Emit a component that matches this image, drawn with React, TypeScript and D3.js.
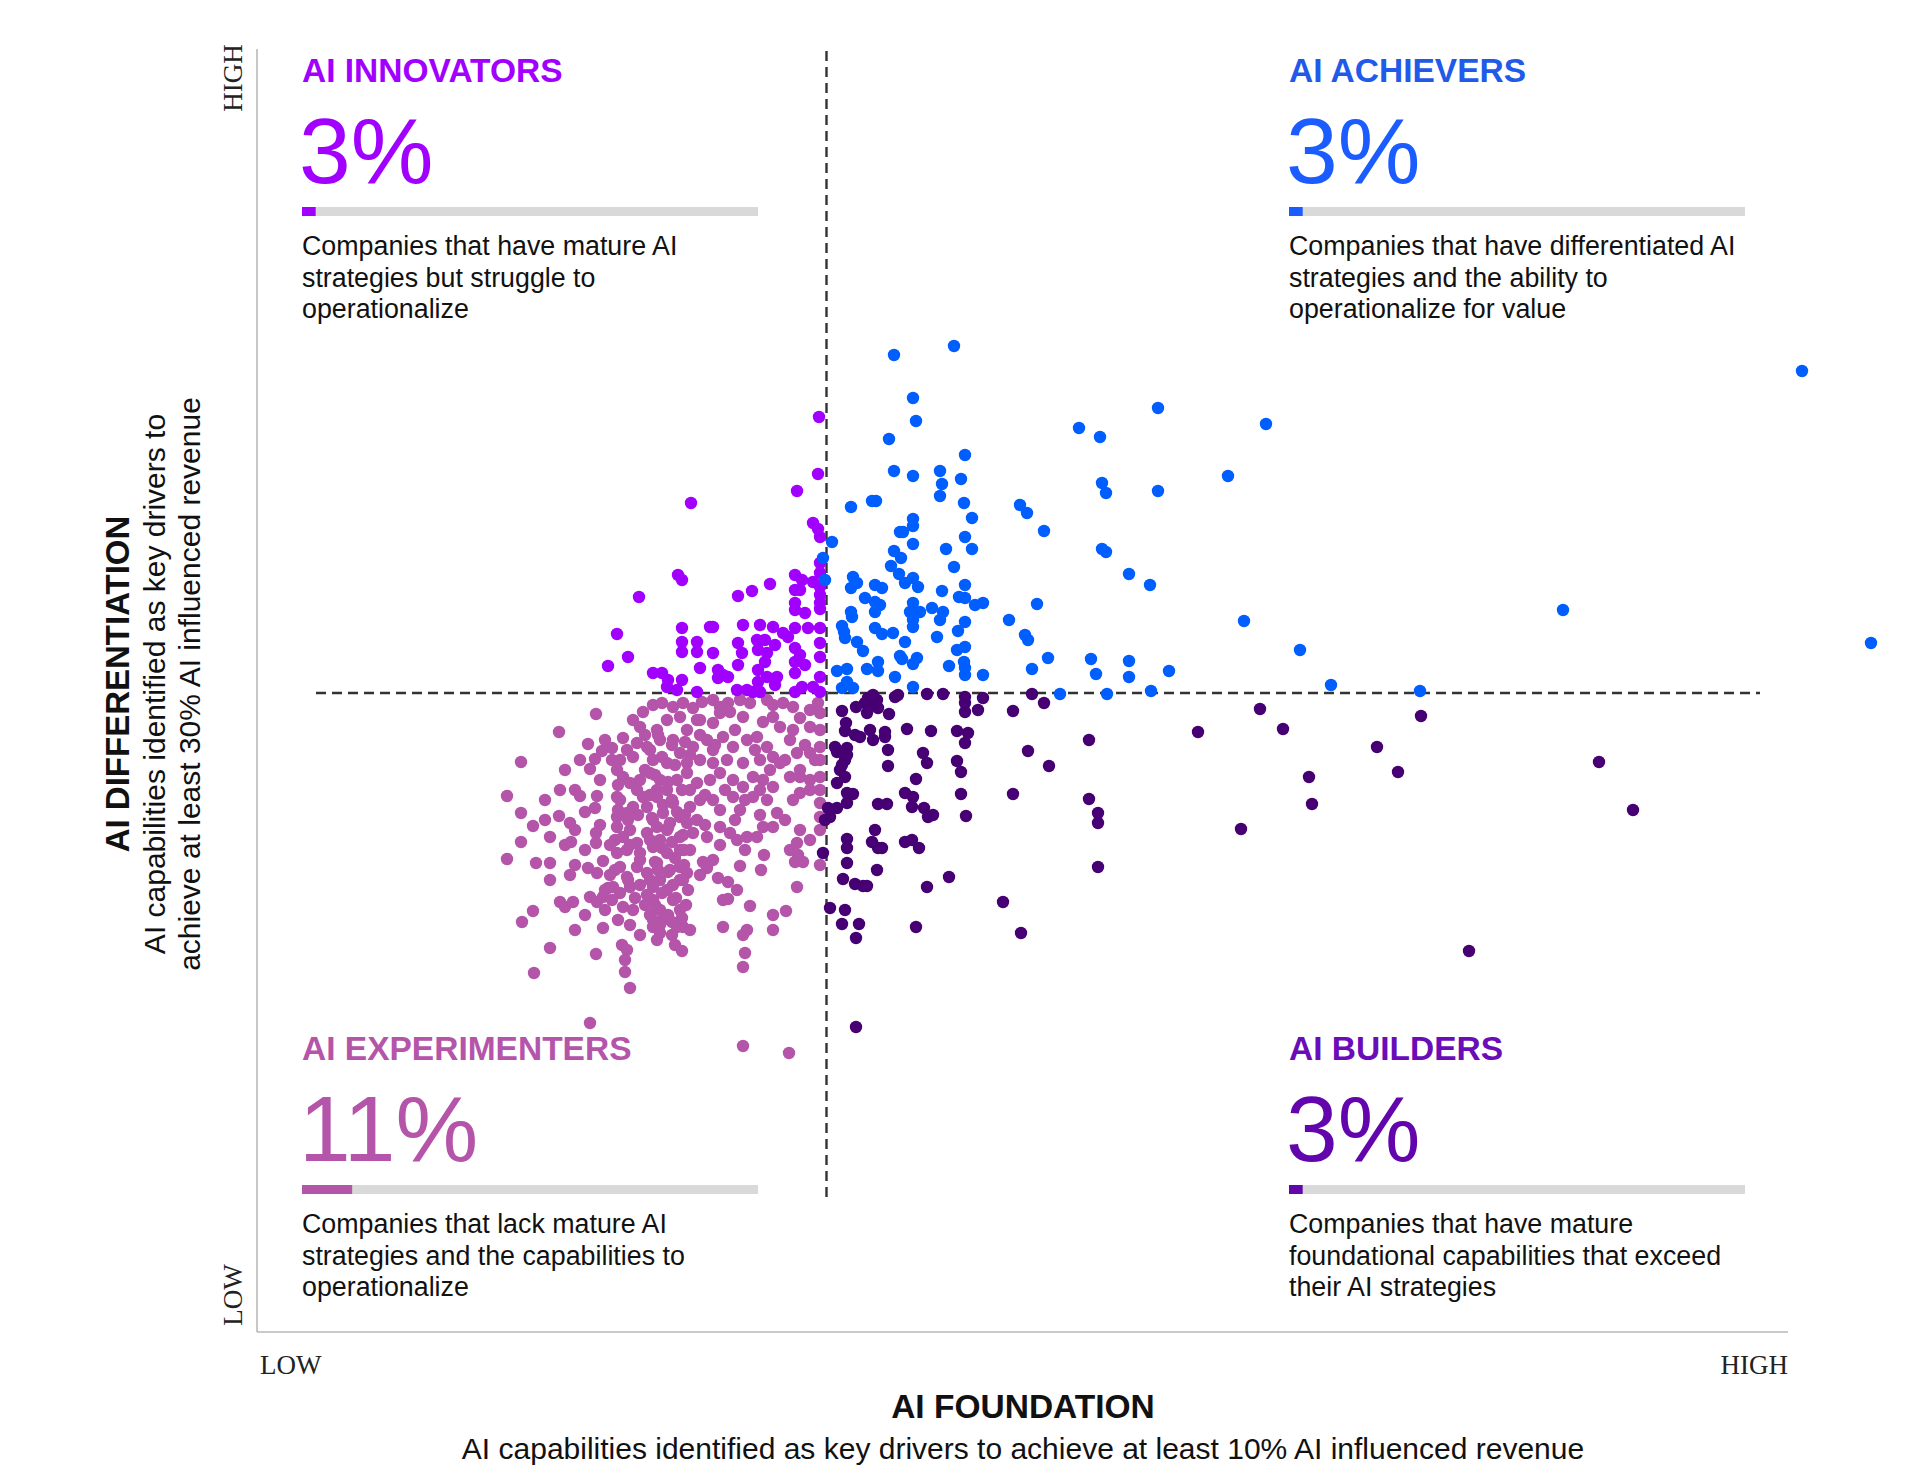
import React from "react";
import * as d3 from "d3";

// Scores: foundation (x) and differentiation (y), arbitrary index units
const achievers: [number, number][] = [
  [89.4,104.5],[95.4,105.4],[91.3,100.2],[91.6,97.9],[88.9,96.1],[115.8,99.2],[107.9,97.2],[110.0,96.3],[96.5,94.5],[89.4,92.9],
  [91.3,92.4],[94.0,92.9],[94.2,91.6],[94.0,90.4],[96.1,92.1],[110.2,91.7],[110.6,90.7],[115.8,90.9],[85.1,89.3],[87.2,89.9],
  [87.6,89.9],[96.4,89.7],[97.2,88.2],[102.0,89.5],[102.7,88.7],[104.4,86.9],[91.3,88.1],[91.3,87.4],[90.0,86.8],[90.3,86.8],
  [91.3,85.6],[83.2,85.8],[96.5,86.3],[97.2,85.1],[94.6,85.1],[110.2,85.1],[110.6,84.8],[89.4,84.9],[90.1,84.2],[89.1,83.4],
  [95.4,83.3],[89.9,82.6],[112.9,82.6],[115.0,81.5],[85.3,82.3],[85.7,81.7],[85.1,81.2],[87.5,81.5],[88.2,81.2],[90.5,81.7],
  [91.3,82.2],[91.8,81.3],[94.2,80.9],[96.5,81.5],[95.9,80.3],[96.5,80.2],[97.5,79.5],[98.3,79.7],[103.7,79.6],[86.5,80.2],
  [87.5,79.8],[88.0,79.5],[87.5,78.8],[85.1,78.8],[85.2,78.3],[91.3,79.7],[91.0,78.8],[92.0,78.8],[93.2,79.2],[94.3,78.8],
  [94.0,78.0],[91.3,78.0],[91.3,77.3],[96.5,77.8],[100.9,78.0],[84.2,77.4],[84.4,76.8],[84.5,76.2],[87.5,77.2],[88.2,76.6],
  [89.3,76.7],[93.7,76.3],[90.5,75.8],[95.8,76.9],[102.5,76.5],[102.8,76.0],[85.7,75.8],[86.3,74.9],[90.0,74.4],[90.2,74.1],
  [91.7,74.2],[91.3,73.6],[95.7,75.0],[96.5,75.3],[96.4,73.8],[96.5,73.2],[96.5,72.5],[98.3,72.5],[94.9,73.4],[104.8,74.2],
  [109.1,74.1],[112.9,73.9],[109.6,72.6],[112.9,72.3],[116.9,72.9],[103.2,73.1],[83.7,72.9],[84.7,73.1],[86.7,73.1],[87.8,73.8],
  [87.8,72.9],[89.5,72.3],[84.7,71.8],[84.2,71.2],[85.3,71.2],[91.3,71.3],[106.0,70.6],[110.7,70.6],[115.1,70.9],[82.3,84.2],
  [82.5,82.0],[126.6,97.6],[122.8,92.4],[124.4,77.9],[130.0,75.0],[133.1,71.5],[142.0,70.9],[156.3,79.0],[180.2,102.9],[187.1,75.7],
];

const innovators: [number, number][] = [
  [81.9,98.3],[81.8,92.6],[79.7,90.9],[69.1,89.7],[81.3,87.7],[81.8,87.1],[82.0,86.3],[82.0,83.7],[67.8,82.5],[68.2,82.0],
  [63.9,80.3],[73.8,80.4],[75.2,80.9],[77.0,81.6],[79.5,82.5],[80.2,82.0],[81.3,81.8],[82.0,82.7],[82.0,81.3],[79.5,81.0],
  [80.0,81.0],[82.0,80.5],[79.5,79.7],[79.5,79.0],[80.5,78.7],[82.0,79.7],[82.0,79.1],[61.7,76.6],[60.8,73.4],[62.8,74.3],
  [68.2,77.2],[68.2,75.8],[68.2,74.8],[69.7,75.8],[69.7,74.8],[71.0,77.3],[71.3,77.3],[71.3,74.7],[74.3,77.5],[76.0,77.5],
  [77.3,77.3],[73.8,75.7],[74.2,74.7],[75.7,76.0],[76.5,76.0],[77.5,75.5],[75.8,75.0],[76.7,74.7],[76.5,73.8],[78.3,76.7],
  [78.8,76.3],[79.5,77.2],[80.8,77.2],[82.0,77.2],[79.5,75.2],[80.0,74.5],[79.5,73.8],[80.5,73.5],[82.0,75.7],[82.0,74.3],
  [70.0,73.2],[65.3,72.7],[66.2,72.7],[66.8,72.0],[68.2,72.0],[71.8,73.0],[72.3,72.5],[72.8,72.3],[71.8,72.2],[73.8,73.5],
  [73.7,71.0],[75.8,73.0],[76.7,72.3],[77.7,72.3],[75.8,71.8],[77.5,71.5],[79.5,72.7],[80.2,71.3],[79.5,70.8],[81.3,71.3],
  [82.0,72.3],[82.0,70.8],[66.7,71.3],[67.7,71.0],[69.7,70.8],[74.7,71.0],[75.3,70.8],[76.0,70.8],
];

const builders: [number, number][] = [
  [87.3,70.5],[86.8,70.2],[86.5,69.7],[86.7,68.7],[87.7,70.0],[87.8,69.2],[87.2,69.5],[89.5,70.3],[89.8,70.5],[92.7,70.6],
  [94.3,70.6],[96.5,70.3],[96.5,69.7],[96.5,68.8],[98.3,70.2],[97.8,69.0],[101.3,68.9],[103.2,70.6],[104.4,69.7],[84.2,68.9],
  [85.6,69.3],[88.9,68.6],[126.0,69.1],[119.8,66.8],[128.3,67.1],[108.9,66.0],[84.6,67.7],[84.5,66.9],[85.5,66.5],[86.0,66.3],
  [87.0,67.0],[87.3,66.0],[88.5,66.8],[88.5,66.3],[90.7,67.1],[93.1,66.9],[95.7,66.9],[96.8,66.7],[96.5,65.7],[83.5,65.3],
  [83.7,64.8],[84.7,65.2],[84.7,64.5],[84.2,63.5],[84.5,64.0],[84.0,63.0],[84.5,62.3],[83.7,61.7],[88.8,65.0],[88.8,63.4],
  [92.3,64.7],[92.7,63.7],[95.7,63.9],[96.1,62.8],[91.6,62.1],[102.8,64.9],[104.9,63.4],[130.9,62.3],[131.2,59.6],[84.7,60.7],
  [85.3,60.6],[84.7,59.7],[83.7,59.2],[82.8,59.2],[83.0,58.3],[82.5,58.0],[87.8,59.6],[88.7,59.6],[90.5,60.7],[91.3,60.3],
  [91.2,59.3],[92.4,59.2],[92.8,58.3],[93.3,58.5],[96.1,60.6],[96.6,58.4],[101.3,60.6],[108.9,60.1],[109.8,58.7],[109.8,57.7],
  [124.1,57.1],[87.5,57.0],[87.2,55.8],[87.8,55.2],[88.2,55.2],[84.7,56.1],[84.7,55.2],[90.5,55.8],[91.2,56.0],[91.9,55.2],
  [82.3,54.7],[84.7,53.7],[87.7,53.0],[109.8,53.3],[84.3,52.1],[85.5,51.6],[86.3,51.4],[86.7,51.4],[92.7,51.3],[94.9,52.3],
  [100.3,49.8],[83.0,49.2],[84.5,49.0],[84.2,47.6],[85.9,47.6],[91.6,47.3],[85.6,46.2],[102.1,46.7],[85.6,37.3],[137.7,65.3],
  [139.8,62.8],[142.1,68.4],[159.9,63.8],[163.3,59.0],[146.9,44.9],
];

const experimenters: [number, number][] = [
  [59.6,68.6],[55.9,66.8],[52.1,63.8],[50.7,60.4],[52.1,58.7],[53.3,57.4],[55.0,56.3],[52.1,55.8],[50.7,54.1],[53.6,53.7],
  [55.0,53.7],[55.9,58.4],[57.0,57.7],[57.1,55.8],[58.8,65.6],[60.2,64.9],[59.5,64.1],[59.0,63.1],[58.0,60.4],[59.7,60.4],
  [59.5,59.2],[61.7,60.3],[64.3,60.3],[59.6,56.7],[59.6,55.7],[60.3,53.9],[57.5,53.5],[57.0,52.5],[58.8,53.2],[59.7,52.7],
  [56.0,49.8],[56.5,49.3],[57.3,49.8],[53.3,48.9],[52.2,47.8],[59.0,50.3],[59.7,49.8],[60.3,50.3],[60.8,51.2],[61.3,51.3],
  [60.3,47.2],[55.0,45.2],[59.6,44.6],[53.4,42.7],[62.2,45.5],[62.7,45.0],[62.5,44.0],[62.5,42.8],[63.0,41.2],[59.0,37.7],
  [68.2,44.9],[74.3,35.4],[78.9,34.7],[74.3,43.3],[74.5,44.7],[74.7,47.0],[74.3,46.5],[72.3,47.3],[77.3,48.5],[78.6,48.9],
  [77.3,47.0],[79.7,51.3],[75.0,49.4],[72.3,50.0],[72.8,50.1],[73.7,51.0],[72.8,51.8],[71.8,52.2],[76.1,53.0],[74.0,53.4],
  [76.4,54.5],[70.7,56.3],[70.3,53.8],[71.3,54.0],[70.7,53.2],[79.7,55.7],[79.8,54.5],[79.5,53.8],[80.3,53.8],[82.0,53.5],
  [64.3,68.8],[65.3,69.5],[66.2,69.7],[67.3,69.3],[68.3,69.7],[69.3,69.2],[70.2,69.8],[71.3,70.0],[72.0,69.3],[72.8,69.7],
  [74.0,70.0],[75.0,69.7],[76.7,70.0],[77.3,69.5],[78.3,69.7],[79.3,69.3],[81.0,69.0],[81.8,69.7],[82.0,68.7],
  [63.3,68.0],[64.0,67.3],[65.7,67.0],[66.7,68.0],[68.0,68.3],[68.7,67.0],[69.7,68.0],[71.3,67.7],[72.0,68.7],[73.0,68.8],
  [74.3,68.3],[76.3,67.8],[77.3,68.3],[78.0,67.3],[79.3,67.0],[80.0,68.2],[81.0,67.3],[82.0,67.0],
  [62.3,66.2],[62.7,65.0],[63.7,65.7],[64.7,65.3],[66.0,66.0],[67.3,66.0],[68.0,64.7],[69.3,65.3],[70.7,66.0],[71.3,65.0],
  [72.3,66.3],[73.3,65.3],[74.7,66.0],[75.7,66.3],[76.7,65.3],[77.3,64.3],[79.0,66.0],[79.7,64.7],[81.0,64.7],[82.0,65.3],
  [62.0,64.0],[63.3,64.3],[65.3,64.0],[66.7,63.7],[68.7,63.7],[70.0,64.0],[71.3,63.7],[72.7,64.0],[74.3,63.7],[76.0,64.0],[78.0,63.7],
  [61.7,63.0],[62.3,62.3],[63.0,61.7],[64.0,62.0],[65.0,62.7],[66.0,62.0],[66.7,61.0],[67.7,62.0],[68.7,62.7],[69.7,61.7],
  [71.0,62.0],[72.0,62.7],[73.3,62.0],[74.3,61.3],[75.3,62.3],[76.3,62.0],[77.3,61.3],[79.0,62.3],[80.0,62.3],[81.0,62.0],
  [82.0,62.3],[65.7,61.0],[63.7,61.0],
  [62.0,60.0],[62.7,58.7],[63.3,59.3],[64.7,59.3],[65.7,60.3],[66.3,58.7],[67.3,59.7],[68.0,58.3],[69.0,59.3],[70.0,60.0],
  [71.3,60.0],[72.0,59.0],[73.3,60.3],[74.0,59.0],[75.3,60.3],[76.7,60.0],[77.7,58.7],[79.3,60.0],[80.0,60.7],[82.0,59.7],
  [82.0,58.3],[61.7,58.3],[65.3,58.0],[67.0,57.7],[68.7,57.7],[69.7,58.0],
  [61.7,57.3],[62.3,56.3],[63.0,57.0],[63.7,55.7],[64.7,56.7],[65.7,57.3],[66.0,56.0],[66.7,57.0],[68.0,56.3],[69.3,56.7],
  [72.0,57.3],[73.0,56.7],[73.7,56.0],[74.7,56.3],[75.7,56.3],[76.3,57.3],[77.3,57.3],[61.7,54.7],[62.7,55.0],[64.0,54.7],
  [65.3,55.3],[66.7,54.7],[68.0,55.0],
  [62.0,53.3],[62.7,52.3],[63.7,53.3],[64.7,52.7],[65.7,53.7],[66.0,52.0],[67.0,53.0],[68.0,53.3],[68.0,52.0],[68.7,52.7],
  [63.0,51.3],[65.3,51.3],[66.7,51.0],
  [62.3,49.3],[63.3,49.0],[65.3,50.0],[66.0,49.0],[65.3,48.0],[66.3,48.0],[67.3,50.0],[68.0,49.0],[67.7,47.3],[68.3,47.3],
  [65.3,47.3],[66.0,46.7],[82.0,64.0],[82.0,61.0],[82.0,57.0],
  [65.0,65.0],[66.2,64.3],[67.5,63.5],[65.5,62.5],[66.8,61.8],[68.2,61.0],[65.0,60.5],[66.3,59.5],[67.7,58.8],[65.2,58.2],
  [66.8,57.2],[68.3,56.5],[65.0,56.0],[66.2,55.2],[67.5,54.2],[65.5,53.8],[66.8,52.8],[68.3,52.0],[65.0,52.0],[66.2,50.7],
  [67.6,50.2],[65.5,49.5],[66.8,48.5],[68.2,48.2],[65.0,48.5],[66.0,47.5],[67.2,46.5],[69.0,47.0],[68.6,49.5],[68.8,51.0],
  [61.8,59.0],[62.8,58.0],[63.8,58.5],[61.5,56.0],[63.0,55.5],[64.0,54.0],[61.5,53.0],[62.8,52.0],[64.0,51.5],[62.0,50.7],
  [63.5,50.2],[64.5,49.5],[61.8,48.0],[63.0,47.5],
  [70.0,66.5],[71.5,65.5],[69.0,61.0],[70.5,60.5],[72.5,61.0],[74.5,60.0],[76.0,58.5],[78.5,58.0],[80.0,57.0],[81.0,56.0],
  [79.0,55.0],[70.5,57.5],[72.0,55.5],[73.5,58.0],[76.0,61.0],[69.0,55.0],[70.0,52.5],[74.5,55.0],[78.5,64.0],[80.0,63.0],
  [80.5,65.5],[81.5,64.0],[81.0,61.0],[77.0,63.0],[75.5,65.0],[73.5,67.0],[70.0,68.0],[69.0,64.5],
  [56.5,63.0],[57.5,61.0],[58.5,58.8],[60.0,57.5],[61.0,55.5],[57.5,57.0],[60.0,62.0],[61.2,64.0],[60.5,66.0],[58.0,64.0],
  [56.0,61.0],[54.5,60.0],[54.5,58.0],[56.5,55.5],[58.5,55.0],[61.0,52.5],[60.5,49.0],[58.5,48.5],[57.5,47.0],[55.0,52.0],
  [65.8,66.5],[67.2,65.5],[68.5,65.8],[64.5,66.5],[61.2,65.2],[61.8,61.5],[64.5,63.0],[67.2,60.0],[68.5,58.5],[67.2,55.8],
  [68.4,55.0],[65.8,53.0],[67.3,51.5],[68.4,53.5],[64.7,50.5],[67.2,47.8],[65.7,46.0],[67.5,45.5],[64.0,46.5],[61.2,50.0],
  [60.5,51.0],
];

// Segment annotations
const segmentNames = ["AI INNOVATORS", "AI ACHIEVERS", "AI EXPERIMENTERS", "AI BUILDERS"];
const segmentShares = [3, 3, 11, 3];
const segmentDescriptions = [
  ["Companies that have mature AI", "strategies but struggle to", "operationalize"],
  ["Companies that have differentiated AI", "strategies and the ability to", "operationalize for value"],
  ["Companies that lack mature AI", "strategies and the capabilities to", "operationalize"],
  ["Companies that have mature", "foundational capabilities that exceed", "their AI strategies"],
];
const dotColors = ["#a100ff", "#005eff", "#b455aa", "#460073"];
const titleColors = ["#a100ff", "#1f5ae8", "#b455aa", "#6a0db8"];
const numberColors = ["#a100ff", "#1a5cff", "#b455aa", "#6205ad"];

// Quadrant thresholds and axis extents (index units)
const xExtent = [25.7, 178.8];
const yExtent = [6.8, 135.1];
const xThreshold = 82.65;
const yThreshold = 70.7;

const SANS = "'Liberation Sans', Arial, Helvetica, sans-serif";
const SERIF = "'Liberation Serif', 'Times New Roman', serif";

export default function App() {
  const x = d3.scaleLinear().domain(xExtent).range([257, 1788]);
  const y = d3.scaleLinear().domain(yExtent).range([1332, 49]);
  const barScale = d3.scaleLinear().domain([0, 100]).range([0, 456]);

  const series = [
    { data: experimenters, color: dotColors[2] },
    { data: builders, color: dotColors[3] },
    { data: innovators, color: dotColors[0] },
    { data: achievers, color: dotColors[1] },
  ];

  const blockPos = [
    { x: 302, y: 0 },
    { x: 1289, y: 0 },
    { x: 302, y: 978 },
    { x: 1289, y: 978 },
  ];

  return (
    <div style={{ position: "absolute", left: 0, top: 0 }}>
      <svg width={1920} height={1484} style={{ display: "block", background: "#fff" }}>
        {/* axes */}
        <line x1={x(xExtent[0])} x2={x(xExtent[0])} y1={y(yExtent[1])} y2={y(yExtent[0])} stroke="#b9b9b9" strokeWidth={1.6} />
        <line x1={x(xExtent[0])} x2={x(xExtent[1])} y1={y(yExtent[0])} y2={y(yExtent[0])} stroke="#b9b9b9" strokeWidth={1.6} />

        {/* quadrant dividers */}
        <line x1={x(xThreshold)} x2={x(xThreshold)} y1={y(134.9)} y2={y(19.8)} stroke="#333" strokeWidth={2.4} strokeDasharray="10 6" />
        <line x1={x(31.6)} x2={x(176.0)} y1={y(yThreshold)} y2={y(yThreshold)} stroke="#333" strokeWidth={2.4} strokeDasharray="10 6" />

        {/* dots */}
        {series.map((s, si) => (
          <g key={si} fill={s.color}>
            {s.data.map((d, i) => (
              <circle key={i} cx={x(d[0])} cy={y(d[1])} r={6.2} />
            ))}
          </g>
        ))}

        {/* quadrant blocks */}
        {segmentNames.map((name, i) => {
          const p = blockPos[i];
          return (
            <g key={name} transform={`translate(${p.x},${p.y})`} fontFamily={SANS}>
              <text x={0} y={82} fontSize={33.5} fontWeight="bold" fill={titleColors[i]}>{name}</text>
              <text x={-3} y={183} fontSize={93} fill={numberColors[i]}>{segmentShares[i]}%</text>
              <rect x={0} y={207} width={barScale(100)} height={9} fill="#d9d9d9" />
              <rect x={0} y={207} width={barScale(segmentShares[i])} height={9} fill={numberColors[i]} />
              {segmentDescriptions[i].map((line, li) => (
                <text key={li} x={0} y={255 + li * 31.5} fontSize={26.8} fill="#111">{line}</text>
              ))}
            </g>
          );
        })}

        {/* y axis end labels */}
        <text transform="translate(242,78) rotate(-90)" textAnchor="middle" fontFamily={SERIF} fontSize={27} fill="#222">HIGH</text>
        <text transform="translate(242,1295) rotate(-90)" textAnchor="middle" fontFamily={SERIF} fontSize={27} fill="#222">LOW</text>

        {/* x axis end labels */}
        <text x={260} y={1374} fontFamily={SERIF} fontSize={27} fill="#222">LOW</text>
        <text x={1788} y={1374} textAnchor="end" fontFamily={SERIF} fontSize={27} fill="#222">HIGH</text>

        {/* axis titles */}
        <text x={1023} y={1418} textAnchor="middle" fontFamily={SANS} fontSize={33.5} fontWeight="bold" fill="#111">AI FOUNDATION</text>
        <text x={1023} y={1459} textAnchor="middle" fontFamily={SANS} fontSize={30} fill="#111">AI capabilities identified as key drivers to achieve at least 10% AI influenced revenue</text>

        <text transform="translate(129,684) rotate(-90)" textAnchor="middle" fontFamily={SANS} fontSize={33} fontWeight="bold" fill="#111">AI DIFFERENTIATION</text>
        <text transform="translate(165,684) rotate(-90)" textAnchor="middle" fontFamily={SANS} fontSize={30} fill="#111">AI capabilities identified as key drivers to</text>
        <text transform="translate(200,684) rotate(-90)" textAnchor="middle" fontFamily={SANS} fontSize={30} fill="#111">achieve at least 30% AI influenced revenue</text>
      </svg>
    </div>
  );
}
